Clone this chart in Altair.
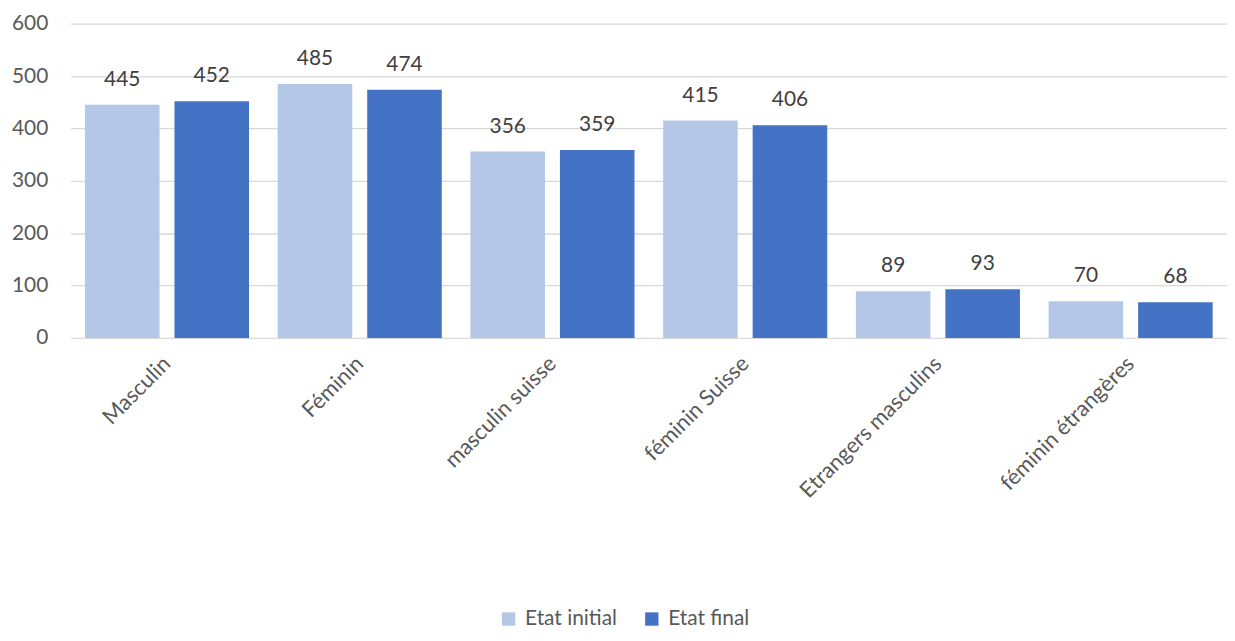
import altair as alt
import pandas as pd

categories = ["Masculin", "Féminin", "masculin suisse", "féminin Suisse",
              "Etrangers masculins", "féminin étrangères"]
series_names = ["Etat initial", "Etat final"]
initial_values = [445, 485, 356, 415, 89, 70]
final_values = [452, 474, 359, 406, 93, 68]
colors = ["#B4C7E7", "#4472C4"]

rows = []
for c, a, b in zip(categories, initial_values, final_values):
    rows.append({"cat": c, "serie": series_names[0], "val": a})
    rows.append({"cat": c, "serie": series_names[1], "val": b})
df = pd.DataFrame(rows)

FONT = "Lato"

x = alt.X("cat:N", sort=categories, title=None,
          scale=alt.Scale(paddingInner=0, paddingOuter=0),
          axis=alt.Axis(labelAngle=-45, labelAlign="right", labelBaseline="middle",
                        labelPadding=22, ticks=False, domain=False,
                        labelFontSize=22, labelColor="#595959", labelFont=FONT,
                        labelLimit=400))
xo = alt.XOffset("serie:N", sort=series_names,
                 scale=alt.Scale(paddingInner=0.167, paddingOuter=0.16))
y = alt.Y("val:Q", title=None,
          scale=alt.Scale(domain=[0, 600]),
          axis=alt.Axis(values=[0, 100, 200, 300, 400, 500, 600], ticks=False,
                        domain=False, labelFontSize=21, labelColor="#595959",
                        labelFont=FONT, labelPadding=23, gridColor="#D9D9D9",
                        gridWidth=1.3))

bars = alt.Chart(df).mark_bar().encode(
    x=x, xOffset=xo, y=y,
    color=alt.Color("serie:N", sort=series_names,
                    scale=alt.Scale(domain=series_names, range=colors),
                    legend=alt.Legend(title=None, orient="none", direction="horizontal",
                                      legendX=430, legendY=588,
                                      symbolType="square", symbolSize=180,
                                      symbolStrokeWidth=0,
                                      labelFontSize=21, labelColor="#595959",
                                      labelFont=FONT, labelOffset=6,
                                      columnPadding=24)),
)

labels = alt.Chart(df).mark_text(baseline="alphabetic", dy=-19, fontSize=21,
                                 color="#404040", font=FONT).encode(
    x=x, xOffset=xo, y=y, text=alt.Text("val:Q"),
)

chart = alt.layer(bars, labels).properties(
    width=1163, height=316,
    autosize=alt.AutoSizeParams(type="none"),
    padding={"left": 63, "top": 14, "right": 0, "bottom": 295},
).configure_view(stroke=None)

chart.save("out.html", embed_options={"renderer": "svg", "actions": False})
